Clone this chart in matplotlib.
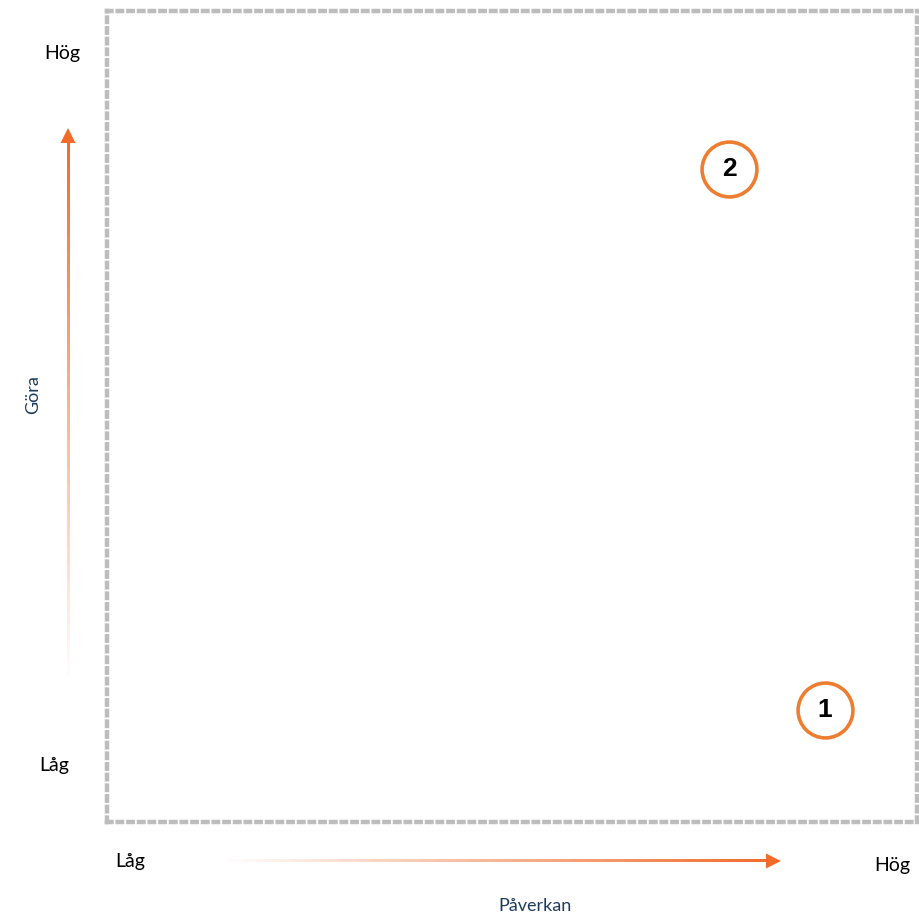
import matplotlib
matplotlib.use("Agg")
import matplotlib.pyplot as plt
import numpy as np
from matplotlib.patches import Polygon

# Data
labels = ["1", "2"]
paverkan = [8.86, 7.68]   # x values
gora = [1.38, 8.05]       # y values
x_axis_title = "Påverkan"
y_axis_title = "Göra"
low_label = "Låg"
high_label = "Hög"

W, H = 920, 916
fig = plt.figure(figsize=(W / 100, H / 100), dpi=100)

# background axes in pixel coordinates for decorations
bg = fig.add_axes([0, 0, 1, 1])
bg.set_xlim(0, W)
bg.set_ylim(H, 0)
bg.axis("off")

arrow_color = np.array(matplotlib.colors.to_rgb("#F26B2B"))

def gradient_strip(n, vertical):
    a = np.linspace(0, 1, n)
    img = np.zeros((n, 1, 4)) if vertical else np.zeros((1, n, 4))
    img[..., :3] = arrow_color
    if vertical:
        img[:, 0, 3] = a[::-1]
    else:
        img[0, :, 3] = a
    return img

# vertical arrow
vx, vy0, vy1, tip_v = 68, 682, 142, 128
sw = 2.8
bg.imshow(gradient_strip(300, True), extent=(vx - sw / 2, vx + sw / 2, vy0, vy1),
          aspect="auto", interpolation="bilinear", zorder=2)
bg.add_patch(Polygon([(vx, tip_v), (vx - 7.5, vy1 + 1), (vx + 7.5, vy1 + 1)],
                     closed=True, facecolor=arrow_color, edgecolor="none", zorder=3))

# horizontal arrow
hy, hx0, hx1, tip_h = 861, 222, 767, 781
bg.imshow(gradient_strip(300, False), extent=(hx0, hx1, hy + sw / 2, hy - sw / 2),
          aspect="auto", interpolation="bilinear", zorder=2)
bg.add_patch(Polygon([(tip_h, hy), (hx1 - 1, hy - 7.5), (hx1 - 1, hy + 7.5)],
                     closed=True, facecolor=arrow_color, edgecolor="none", zorder=3))
bg.set_xlim(0, W)
bg.set_ylim(H, 0)

fam = ["Lato", "DejaVu Sans"]
fs = 14
bg.text(62, 53, high_label, ha="center", va="center", fontsize=fs, family=fam, color="black")
bg.text(54, 765, low_label, ha="center", va="center", fontsize=fs, family=fam, color="black")
bg.text(130, 862, low_label, ha="center", va="center", fontsize=fs, family=fam, color="black")
bg.text(892, 866, high_label, ha="center", va="center", fontsize=fs, family=fam, color="black")
bg.text(535, 906, x_axis_title, ha="center", va="center", fontsize=13, family=fam, color="#1F3B5C")
bg.text(33, 395, y_axis_title, ha="center", va="center", rotation=90, fontsize=13, family=fam, color="#1F3B5C")

# main plotting axes (dotted box)
left, top, right, bottom = 107, 11, 917, 822
ax = fig.add_axes([left / W, 1 - bottom / H, (right - left) / W, (bottom - top) / H])
ax.set_xlim(0, 10)
ax.set_ylim(0, 10)
ax.patch.set_alpha(0)
ax.set_xticks([])
ax.set_yticks([])
for sp in ax.spines.values():
    sp.set_color("#BDBDBD")
    sp.set_linewidth(3.2)
    sp.set_linestyle((0, (1.0, 1.4)))

ax.scatter(paverkan, gora, s=39.5 ** 2, facecolor="white", edgecolor="#ED7D31",
           linewidths=2.6, zorder=3, clip_on=False)
for lab, x, y in zip(labels, paverkan, gora):
    ax.text(x, y, lab, ha="center", va="center", fontsize=19, fontweight="bold",
            family=["Liberation Sans", "DejaVu Sans"], color="black", zorder=4)

fig.savefig("out.png", dpi=100)
